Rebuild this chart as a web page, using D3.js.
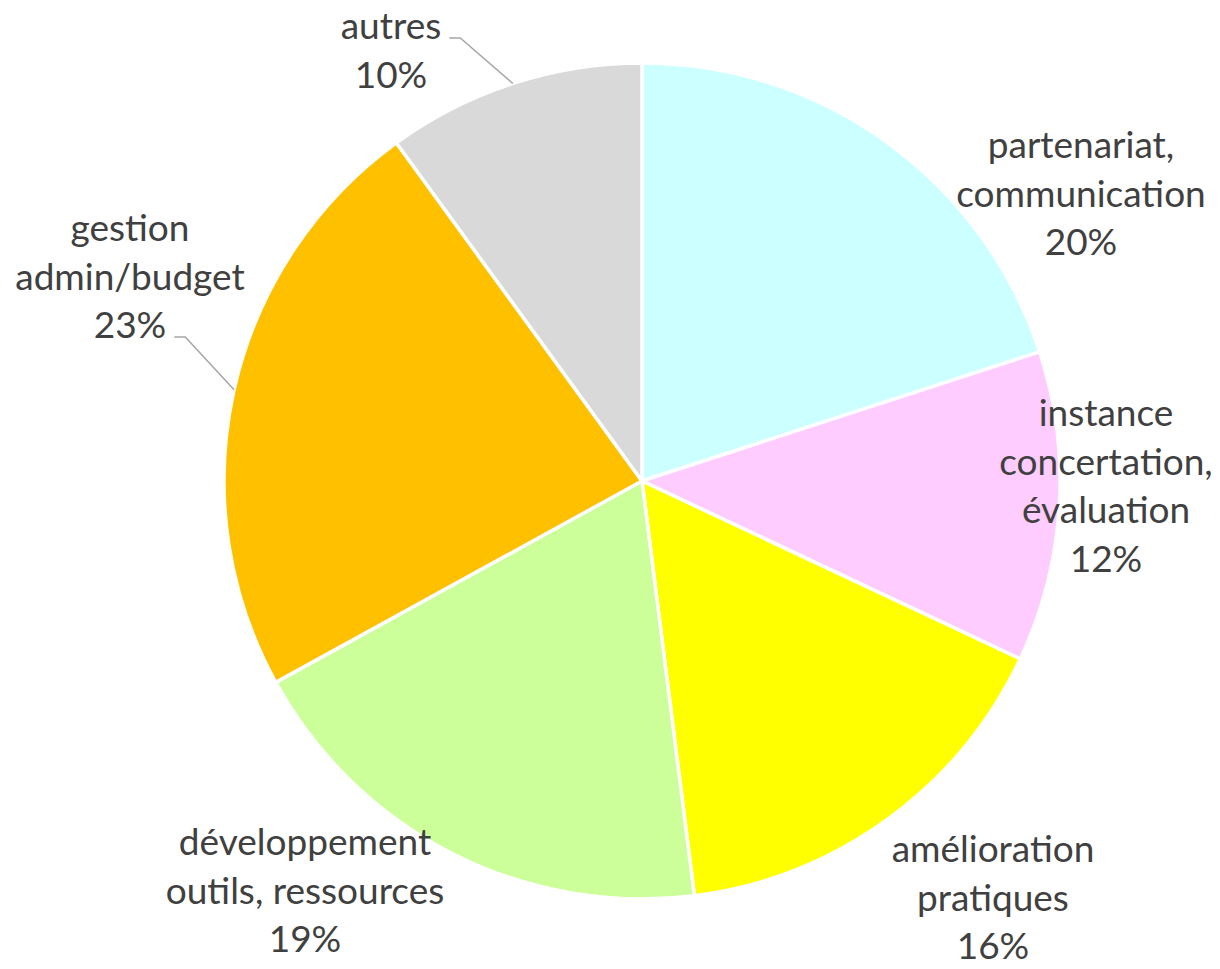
<!DOCTYPE html>
<html>
<head>
<meta charset="utf-8">
<script src="https://cdn.jsdelivr.net/npm/d3@7"></script>
<style>
  html, body { margin: 0; padding: 0; background: #ffffff; }
  svg { display: block; }
  .lbl { font-family: "Lato", "Open Sans", sans-serif; font-size: 37px; fill: #404040; }
</style>
</head>
<body>
<svg id="chart" width="1220" height="969"></svg>
<script>
// Categories (label lines) and their shares, clockwise from 12 o'clock
const categories = [
  "partenariat,\ncommunication",
  "instance\nconcertation,\névaluation",
  "amélioration\npratiques",
  "développement\noutils, ressources",
  "gestion\nadmin/budget",
  "autres"
];
const values = [20, 12, 16, 19, 23, 10];
const sliceColors = ["#CCFFFF", "#FFCCFF", "#FFFF00", "#CCFF99", "#FFC000", "#D9D9D9"];

// Label block placement: centre x and first baseline y, plus optional leader attachment line
const labelBlocks = [
  { x: 1081, y: 158 },
  { x: 1106, y: 426 },
  { x: 993,  y: 862 },
  { x: 305,  y: 855 },
  { x: 130,  y: 241, leaderLine: 2 },
  { x: 391,  y: 39,  leaderLine: 0 }
];

const width = 1220, height = 969;
const cx = 642, cy = 481, radius = 418;
const lineStep = 48.5;

const svg = d3.select("#chart");
const g = svg.append("g").attr("transform", `translate(${cx},${cy})`);

const pie = d3.pie().sort(null).value(d => d).startAngle(0).endAngle(2 * Math.PI);
const arcs = pie(values);
const arc = d3.arc().innerRadius(0).outerRadius(radius);

g.selectAll("path.slice")
  .data(arcs)
  .join("path")
  .attr("class", "slice")
  .attr("d", arc)
  .attr("fill", (d, i) => sliceColors[i])
  .attr("stroke", "#ffffff")
  .attr("stroke-width", 3.5)
  .attr("stroke-linejoin", "round");

// Data labels: category lines followed by the percentage
const labels = svg.selectAll("text.lbl")
  .data(arcs)
  .join("text")
  .attr("class", "lbl")
  .attr("text-anchor", "middle");

labels.each(function (d, i) {
  const lines = categories[i].split("\n").concat([d3.format(".0f")(d.value) + "%"]);
  const t = d3.select(this);
  lines.forEach((s, k) => {
    t.append("tspan")
      .attr("x", labelBlocks[i].x)
      .attr("y", labelBlocks[i].y + k * lineStep)
      .text(s);
  });
});

// Leader lines from the label to the slice's outer edge at its mid angle
labels.each(function (d, i) {
  const lb = labelBlocks[i];
  if (lb.leaderLine === undefined) return;
  const span = d3.select(this).selectAll("tspan").nodes()[lb.leaderLine];
  const w = span.getComputedTextLength();
  const x0 = lb.x + w / 2 + 8;
  const y0 = lb.y + lb.leaderLine * lineStep - 1;
  const mid = (d.startAngle + d.endAngle) / 2;
  const ex = cx + radius * Math.sin(mid);
  const ey = cy - radius * Math.cos(mid);
  svg.append("path")
    .attr("d", d3.line()([[x0, y0], [x0 + 11, y0], [ex, ey]]))
    .attr("fill", "none")
    .attr("stroke", "#A6A6A6")
    .attr("stroke-width", 1.5);
});
</script>
</body>
</html>
